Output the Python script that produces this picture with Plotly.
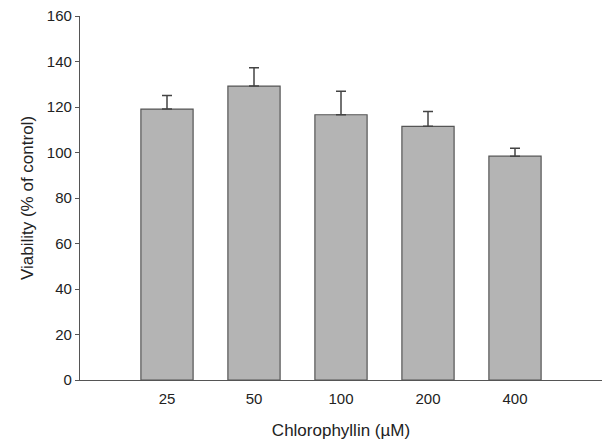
import plotly.graph_objects as go

categories = ["25", "50", "100", "200", "400"]
viability = [119.1, 129.2, 116.6, 111.5, 98.4]
err_upper = [6.0, 8.1, 10.3, 6.5, 3.5]
y_ticks = [0, 20, 40, 60, 80, 100, 120, 140, 160]

fig = go.Figure()
fig.add_trace(go.Bar(
    x=list(range(len(categories))),
    y=viability,
    width=0.6,
    marker=dict(color="#b4b4b4", line=dict(color="#555555", width=1.2)),
    error_y=dict(type="data", symmetric=False, array=err_upper,
                 arrayminus=[0] * len(err_upper),
                 color="#444444", thickness=1.5, width=5),
))

fig.update_layout(
    width=602, height=442,
    margin=dict(l=80, r=0, t=16, b=62),
    paper_bgcolor="white", plot_bgcolor="white",
    showlegend=False,
    font=dict(family="Liberation Sans, Arial, sans-serif", color="#222222", size=15),
    xaxis=dict(
        range=[-1, 5],
        tickmode="array", tickvals=list(range(len(categories))), ticktext=categories,
        showline=True, linecolor="#555555", linewidth=1.2,
        ticks="", showgrid=False, zeroline=False,
        tickfont=dict(size=15), ticklabelstandoff=5,
        title=dict(text="Chlorophyllin (µM)", font=dict(size=17), standoff=18),
        automargin=False,
    ),
    yaxis=dict(
        range=[0, 160],
        tickmode="array", tickvals=y_ticks,
        showline=True, linecolor="#555555", linewidth=1.2,
        ticks="outside", ticklen=4, tickcolor="#555555", tickwidth=1.2,
        showgrid=False, zeroline=False,
        tickfont=dict(size=15),
        title=dict(text="Viability (% of control)", font=dict(size=17), standoff=8),
        automargin=False,
    ),
)

fig.write_html("out.html", config={"displayModeBar": False},
               post_script="document.body.style.margin='0';")
